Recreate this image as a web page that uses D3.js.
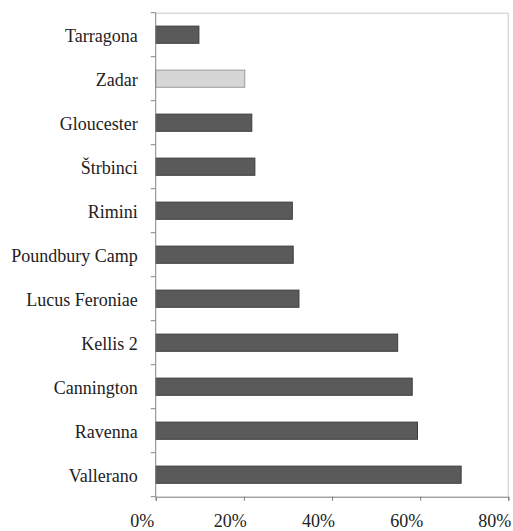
<!DOCTYPE html>
<html>
<head>
<meta charset="utf-8">
<script src="https://cdn.jsdelivr.net/npm/d3@7"></script>
<style>
  body { margin: 0; background: #fff; }
  svg text { fill: #222; }
</style>
</head>
<body>
<div id="chart"></div>
<script>
// sites, top to bottom
const sites = ["Tarragona", "Zadar", "Gloucester", "Štrbinci", "Rimini", "Poundbury Camp",
  "Lucus Feroniae", "Kellis 2", "Cannington", "Ravenna", "Vallerano"];
// percentages
const values = [9.8, 20.2, 21.8, 22.5, 31.0, 31.2, 32.5, 54.9, 58.2, 59.4, 69.3];
// the one site drawn in light grey
const highlight = ["Zadar"];
const xTicks = [0, 20, 40, 60, 80];

const W = 513, H = 531;
const margin = { top: 12.7, right: 4.7, bottom: 34.3, left: 155.7 };
const width = W - margin.left - margin.right;
const height = H - margin.top - margin.bottom;
const serif = "Tinos, 'Times New Roman', Times, 'Liberation Serif', 'Noto Serif', 'DejaVu Serif', FreeSerif, serif";

const svg = d3.select("#chart").append("svg")
  .attr("width", W)
  .attr("height", H);

const g = svg.append("g")
  .attr("transform", `translate(${margin.left},${margin.top})`);

const x = d3.scaleLinear().domain([0, 80]).range([0, width]);
const y = d3.scaleBand().domain(sites).range([0, height]).padding(0);

// light frame on top and right
g.append("path")
  .attr("d", `M0,0.5H${width}V${height}`)
  .attr("fill", "none")
  .attr("stroke", "#c8c8c8")
  .attr("stroke-width", 1);

const barH = y.bandwidth() * 0.39;

g.selectAll("rect.bar")
  .data(sites.map((s, i) => ({ site: s, value: values[i] })))
  .enter()
  .append("rect")
  .attr("class", "bar")
  .attr("x", x(0))
  .attr("y", d => y(d.site) + (y.bandwidth() - barH) / 2)
  .attr("width", d => x(d.value) - x(0))
  .attr("height", barH)
  .attr("fill", d => highlight.includes(d.site) ? "#d6d6d6" : "#5a5a5a")
  .attr("stroke", d => highlight.includes(d.site) ? "#9a9a9a" : "#3c3c3c")
  .attr("stroke-width", 1);

// left axis: ticks at band boundaries
const bounds = sites.map(s => y(s)).concat([height]);
g.append("line")
  .attr("x1", 0).attr("x2", 0)
  .attr("y1", 0).attr("y2", height)
  .attr("stroke", "#858585");
g.selectAll("line.ytick")
  .data(bounds)
  .enter()
  .append("line")
  .attr("class", "ytick")
  .attr("x1", -5).attr("x2", 0)
  .attr("y1", d => d).attr("y2", d => d)
  .attr("stroke", "#858585");

g.selectAll("text.ylab")
  .data(sites)
  .enter()
  .append("text")
  .attr("class", "ylab")
  .attr("x", -18)
  .attr("y", d => y(d) + y.bandwidth() / 2 + 7.5)
  .attr("text-anchor", "end")
  .style("font-family", serif)
  .style("font-size", "18px")
  .text(d => d);

// bottom axis
const xAxis = g.append("g")
  .attr("transform", `translate(0,${height})`)
  .call(d3.axisBottom(x).tickValues(xTicks).tickSize(4).tickFormat(d => d + "%"));
xAxis.select(".domain").attr("stroke", "#7a7a7a");
xAxis.selectAll(".tick line").attr("stroke", "#7a7a7a");
xAxis.selectAll(".tick text")
  .attr("y", 0)
  .attr("dy", 0)
  .attr("transform", "translate(-14,30.5)")
  .style("font-size", "18px")
  .style("font-family", serif)
  .attr("fill", "#222");
</script>
</body>
</html>
